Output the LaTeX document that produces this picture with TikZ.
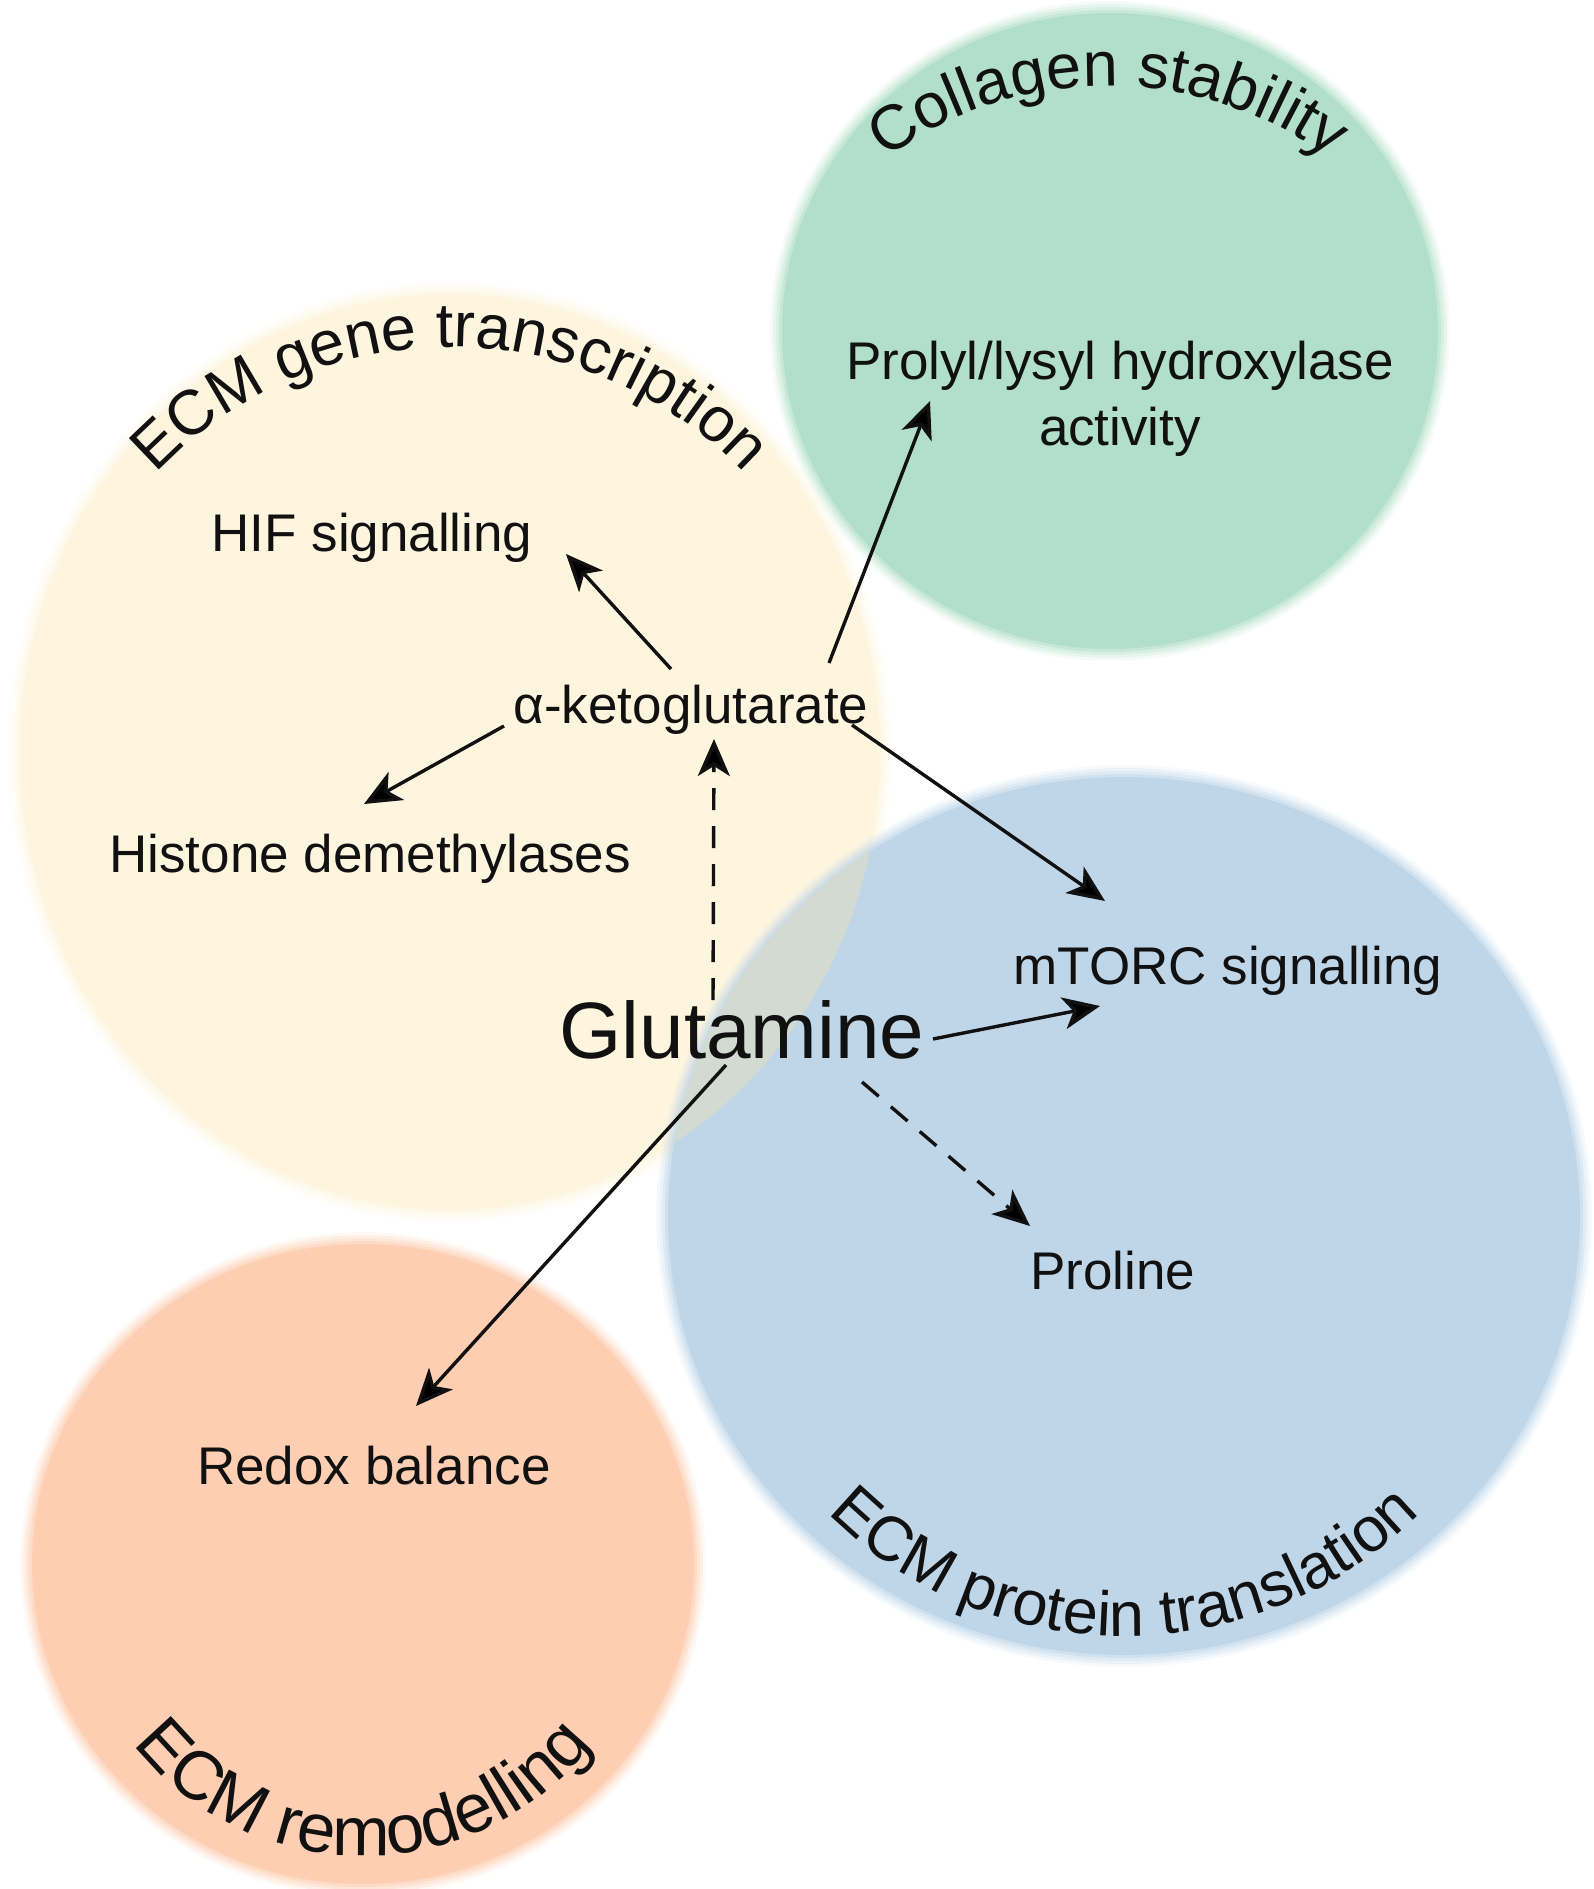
\documentclass[tikz,border=0pt]{standalone}
\usepackage{fontspec}
\setmainfont{Liberation Sans}
\usetikzlibrary{arrows.meta,decorations.text}
\definecolor{cyellow}{HTML}{FEF5DF}
\definecolor{cgreen}{HTML}{B2DFCB}
\definecolor{cblue}{HTML}{BFD6E9}
\definecolor{corange}{HTML}{FDCEB1}
\definecolor{coverlap}{HTML}{D3DAD2}
\definecolor{ink}{HTML}{111111}
\newcommand\arcfont{\fontsize{63}{70}\selectfont}
\newcommand\arcbigfont{\fontsize{69}{76}\selectfont}
\newcommand\lblfont{\fontsize{53}{66}\selectfont}
\newcommand\bigfont{\fontsize{80}{90}\selectfont}
\newcommand\softblob[5]{%
  \foreach \dd/\oo in {10/0.12,7/0.2,4/0.3,1/0.45}{%
    \fill[#1, opacity=\oo] (#2,#3) ellipse [x radius={#4+\dd}, y radius={#5+\dd}];
  }
  \fill[#1] (#2,#3) ellipse [x radius={#4-2}, y radius={#5-2}];
}
\begin{document}
\begin{tikzpicture}[x=1pt,y=-1pt,
  lbl/.style={inner sep=0pt, font=\lblfont, text=ink, anchor=base},
  arr/.style={draw=ink, line width=3.4pt, -{Stealth[length=37pt,width=32pt,inset=10pt]}},
  darr/.style={arr, dash pattern=on 22pt off 16pt},
  arctext/.style={decorate, decoration={text along path, text align=center, text color=ink}}
]
\useasboundingbox (0,0) rectangle (1594,1889);
% circles
\softblob{cyellow}{450}{752}{432}{460}
\softblob{cgreen}{1110}{331}{330}{320}
\softblob{cblue}{1124}{1216}{458}{441}
\softblob{corange}{363}{1564}{333}{322}
\begin{scope}
  \clip (450,752) ellipse [x radius=430, y radius=458];
  \fill[coverlap] (1124,1216) ellipse [x radius=456, y radius=439];
\end{scope}
% curved titles
\path[arctext, decoration={text={|\arcfont|ECM gene transcription}}]
  (450,752) ++(-180:405) arc[start angle=-180, end angle=0, radius=405];
\path[arctext, decoration={text={|\arcfont|Collagen stability}}]
  (1108,463) ++(-180:377) arc[start angle=-180, end angle=0, radius=377];
\path[arctext, decoration={text={|\arcfont|ECM protein translation}}]
  (1124,1216) ++(180:420) arc[start angle=180, end angle=0, radius=420];
\path[arctext, decoration={text={|\arcbigfont|ECM remodelling}}]
  (363,1564) ++(180:292) arc[start angle=180, end angle=0, radius=292];
% labels
\node[lbl] (hif) at (372,551) {HIF signalling};
\node[lbl] (akg) at (691,723) {α-ketoglutarate};
\node[lbl] (hist) at (370,872) {Histone demethylases};
\node[inner sep=0pt, font=\lblfont, text=ink, align=center, anchor=north] (prolyl) at (1120,341) {Prolyl/lysyl hydroxylase\\activity};
\node[lbl] (mtorc) at (1228,984) {mTORC signalling};
\node[lbl, font=\bigfont] (glut) at (742,1058) {Glutamine};
\node[lbl] (pro) at (1113,1289) {Proline};
\node[lbl] (redox) at (374,1484) {Redox balance};
% arrows
\draw[arr] ([shift={(-20,-54)}]akg.base) -- ([shift={(194,3)}]hif.base);
\draw[arr] ([shift={(-187,3)}]akg.base) -- ([shift={(-6,-68)}]hist.base);
\draw[arr] ([shift={(138,-60)}]akg.base) -- ([shift={(-190,60)}]prolyl.north);
\draw[arr] ([shift={(161,2)}]akg.base) -- ([shift={(-123,-83)}]mtorc.base);
\draw[darr] ([shift={(-29,-58)}]glut.base) -- ([shift={(23,16)}]akg.base);
\draw[arr] ([shift={(191,-19)}]glut.base) -- ([shift={(-128,22)}]mtorc.base);
\draw[darr] ([shift={(120,24)}]glut.base) -- ([shift={(-83,-63)}]pro.base);
\draw[arr] ([shift={(-16,7)}]glut.base) -- ([shift={(42,-78)}]redox.base);
\end{tikzpicture}
\end{document}
